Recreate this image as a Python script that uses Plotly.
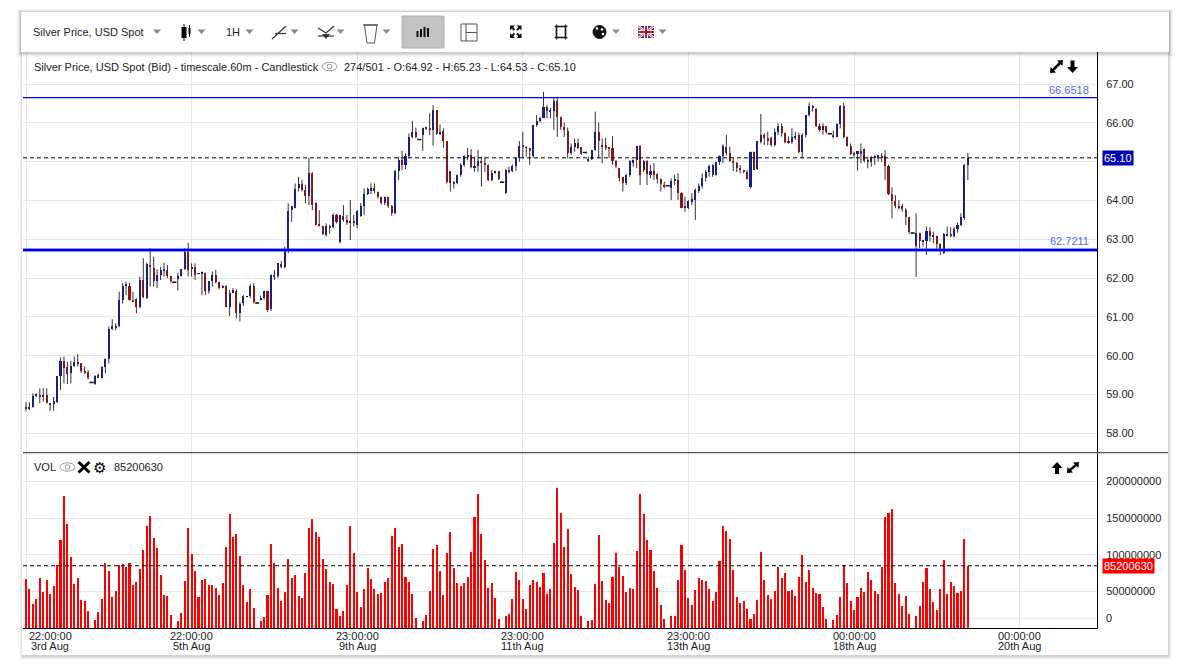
"""
Silver Price, USD Spot -- hourly candlestick with volume panel, rebuilt in Plotly.
"""

import plotly.graph_objects as go

FIG_W, FIG_H = 1198, 669

# -- Data ---------------------------------------------------------------------

OPEN = [
    58.66, 58.64, 58.67, 58.96, 58.99, 58.95, 58.97, 58.77, 58.77, 58.80,
    59.46, 59.86, 59.70, 59.55, 59.73, 59.84, 59.80, 59.61, 59.56, 59.31,
    59.27, 59.49, 59.42, 59.70, 59.92, 60.70, 60.73, 60.75, 61.42, 61.80,
    61.80, 61.44, 61.45, 61.26, 61.95, 61.48, 62.31, 62.25, 61.91, 62.08,
    62.19, 62.21, 62.04, 61.89, 61.99, 62.04, 62.23, 62.66, 62.23, 62.28,
    62.11, 62.12, 62.12, 61.65, 61.91, 62.08, 61.89, 61.80, 61.80, 61.26,
    61.62, 61.67, 61.09, 61.35, 61.51, 61.52, 61.80, 61.36, 61.44, 61.48,
    61.65, 61.20, 62.08, 62.04, 62.36, 62.29, 62.70, 63.76, 63.81, 64.31,
    64.42, 64.27, 64.10, 64.70, 63.93, 63.39, 63.34, 63.11, 63.34, 63.30,
    63.63, 62.91, 63.59, 63.50, 63.41, 63.47, 63.37, 63.60, 63.86, 64.17,
    64.23, 64.31, 64.20, 64.07, 63.93, 64.07, 63.86, 63.67, 64.74, 65.04,
    64.92, 65.13, 65.62, 65.75, 65.57, 65.67, 65.87, 65.84, 65.82, 66.33,
    65.71, 65.79, 65.53, 64.74, 64.48, 64.44, 64.65, 64.90, 65.11, 65.17,
    64.85, 64.87, 65.00, 64.96, 64.92, 64.53, 64.70, 64.74, 64.47, 64.19,
    64.79, 64.76, 64.89, 65.09, 65.43, 65.35, 65.35, 65.13, 65.93, 66.03,
    66.13, 66.40, 66.29, 66.29, 66.55, 66.14, 65.88, 65.79, 65.22, 65.36,
    65.47, 65.36, 65.24, 65.00, 65.07, 65.30, 65.77, 65.43, 65.43, 65.36,
    65.35, 65.02, 64.83, 64.59, 64.44, 64.64, 64.96, 65.04, 65.39, 64.79,
    65.00, 64.66, 64.76, 64.68, 64.55, 64.40, 64.38, 64.31, 64.50, 64.53,
    64.19, 63.84, 63.80, 63.96, 64.01, 64.25, 64.36, 64.57, 64.73, 64.64,
    64.66, 64.98, 65.13, 65.36, 65.22, 65.02, 64.96, 64.83, 64.77, 64.73,
    64.33, 65.23, 64.81, 65.49, 65.69, 65.60, 65.60, 65.43, 65.77, 65.92,
    65.73, 65.52, 65.49, 65.60, 65.69, 65.23, 65.69, 66.20, 66.44, 66.35,
    65.90, 65.80, 65.90, 65.72, 65.66, 65.64, 65.97, 66.44, 65.63, 65.39,
    65.22, 65.21, 65.20, 65.32, 65.04, 64.99, 65.09, 65.13, 65.15, 65.13,
    64.89, 64.17, 63.99, 63.86, 63.84, 63.75, 63.57, 63.16, 62.81, 63.15,
    62.93, 62.94, 63.20, 63.06, 63.07, 62.88, 62.64, 63.10, 63.14, 63.09,
    63.26, 63.37, 63.54, 64.92,
]

HIGH = [
    58.80, 58.80, 59.03, 59.03, 59.16, 59.16, 59.16, 58.78, 58.94, 59.46,
    59.96, 59.98, 59.84, 59.87, 59.98, 60.04, 59.80, 59.72, 59.63, 59.32,
    59.50, 59.54, 59.73, 59.93, 60.75, 60.94, 60.84, 61.65, 61.88, 61.91,
    61.88, 61.65, 61.48, 62.04, 62.51, 62.40, 62.77, 62.55, 62.23, 62.29,
    62.40, 62.34, 62.06, 61.90, 62.14, 62.23, 62.77, 62.91, 62.38, 62.38,
    62.13, 62.17, 62.14, 61.93, 62.17, 62.21, 61.91, 61.82, 61.82, 61.69,
    61.74, 61.71, 61.39, 61.56, 61.53, 61.85, 61.87, 61.37, 61.55, 61.67,
    61.67, 62.10, 62.21, 62.38, 62.44, 62.81, 63.93, 63.86, 64.44, 64.61,
    64.53, 64.40, 65.10, 64.73, 63.95, 63.75, 63.35, 63.41, 63.37, 63.67,
    63.65, 63.63, 63.88, 63.63, 64.01, 63.63, 63.75, 63.93, 64.31, 64.33,
    64.44, 64.44, 64.23, 64.10, 64.10, 64.10, 63.88, 64.79, 65.13, 65.28,
    65.22, 65.73, 66.05, 65.88, 65.58, 65.88, 65.90, 66.25, 66.46, 66.33,
    65.96, 65.86, 65.53, 64.74, 64.50, 64.67, 64.96, 65.17, 65.35, 65.33,
    65.13, 65.30, 65.13, 65.13, 64.93, 64.79, 64.77, 64.76, 64.48, 64.81,
    64.87, 64.93, 65.10, 65.53, 65.77, 65.39, 65.35, 65.93, 66.20, 66.16,
    66.80, 66.46, 66.39, 66.65, 66.68, 66.16, 66.01, 65.88, 65.47, 65.60,
    65.60, 65.36, 65.25, 65.13, 65.30, 66.29, 66.01, 65.60, 65.62, 65.39,
    65.65, 65.04, 64.83, 64.61, 64.68, 65.04, 65.06, 65.39, 65.43, 65.04,
    65.04, 64.92, 64.96, 64.70, 64.57, 64.49, 64.39, 64.57, 64.66, 64.70,
    64.21, 64.10, 64.01, 64.19, 64.31, 64.44, 64.70, 64.79, 64.92, 64.93,
    65.00, 65.16, 65.45, 65.69, 65.39, 65.10, 64.99, 64.92, 64.79, 64.79,
    65.26, 65.26, 65.52, 66.23, 65.73, 65.77, 65.65, 65.86, 65.99, 65.99,
    65.75, 65.65, 65.86, 65.77, 65.75, 65.73, 66.20, 66.52, 66.46, 66.38,
    65.99, 65.99, 65.92, 65.73, 65.80, 65.99, 66.46, 66.52, 65.65, 65.47,
    65.26, 65.26, 65.47, 65.34, 65.13, 65.15, 65.17, 65.17, 65.22, 65.30,
    64.92, 64.34, 64.14, 64.01, 63.91, 63.80, 63.58, 63.17, 63.67, 63.17,
    62.96, 63.33, 63.31, 63.20, 63.09, 62.90, 63.16, 63.33, 63.31, 63.31,
    63.43, 63.67, 64.94, 65.23,
]

LOW = [
    58.57, 58.60, 58.66, 58.94, 58.77, 58.82, 58.77, 58.58, 58.58, 58.78,
    59.12, 59.29, 59.27, 59.29, 59.72, 59.72, 59.55, 59.53, 59.39, 59.30,
    59.25, 59.42, 59.41, 59.55, 59.80, 60.66, 60.66, 60.73, 61.35, 61.56,
    61.42, 61.39, 61.09, 61.22, 61.48, 61.46, 61.78, 61.78, 61.74, 61.95,
    62.04, 62.00, 61.88, 61.88, 61.68, 62.04, 62.21, 62.04, 62.04, 61.95,
    62.10, 61.56, 61.56, 61.60, 61.78, 61.86, 61.71, 61.74, 61.25, 61.02,
    61.61, 60.96, 60.88, 61.28, 61.50, 61.48, 61.35, 61.34, 61.42, 61.44,
    61.13, 61.15, 61.95, 62.01, 62.25, 62.25, 62.64, 63.45, 63.80, 64.23,
    64.23, 63.93, 63.88, 63.75, 63.36, 63.33, 63.11, 63.07, 63.15, 63.28,
    63.41, 62.89, 63.45, 63.37, 62.98, 63.33, 63.28, 63.58, 63.63, 64.14,
    64.16, 64.19, 64.05, 63.90, 63.88, 63.81, 63.61, 63.65, 64.53, 64.79,
    64.81, 65.09, 65.60, 65.60, 65.56, 65.28, 65.82, 65.69, 65.41, 65.69,
    65.69, 65.36, 64.44, 64.23, 64.31, 64.42, 64.61, 64.87, 65.04, 64.83,
    64.74, 64.74, 64.36, 64.73, 64.50, 64.50, 64.69, 64.53, 64.46, 64.17,
    64.70, 64.73, 64.76, 65.00, 65.09, 65.13, 64.92, 65.10, 65.90, 66.01,
    66.12, 66.12, 66.12, 65.82, 65.64, 65.82, 65.64, 65.09, 65.17, 65.26,
    65.33, 65.17, 65.23, 64.99, 65.04, 65.28, 65.09, 64.96, 65.30, 65.10,
    64.92, 64.83, 64.49, 64.23, 64.40, 64.61, 64.87, 64.83, 64.40, 64.74,
    64.40, 64.57, 64.53, 64.44, 64.23, 64.31, 64.37, 64.01, 64.40, 64.01,
    63.80, 63.71, 63.78, 63.89, 63.50, 64.19, 64.31, 64.49, 64.61, 64.61,
    64.64, 64.92, 64.96, 65.16, 65.00, 64.76, 64.73, 64.70, 64.70, 64.53,
    64.31, 64.78, 64.79, 65.47, 65.43, 65.43, 65.39, 65.39, 65.69, 65.65,
    65.47, 65.46, 65.46, 65.56, 65.22, 65.09, 65.62, 66.16, 66.29, 65.89,
    65.77, 65.69, 65.73, 65.71, 65.60, 65.63, 65.86, 65.60, 65.39, 65.17,
    65.09, 64.77, 64.96, 64.98, 64.83, 64.87, 64.91, 65.00, 65.00, 64.53,
    64.14, 63.54, 63.80, 63.77, 63.71, 63.37, 63.15, 63.15, 62.03, 62.77,
    62.81, 62.60, 62.94, 62.90, 62.74, 62.60, 62.62, 63.07, 63.05, 63.05,
    63.17, 63.34, 63.50, 64.53,
]

CLOSE = [
    58.64, 58.66, 58.96, 58.99, 58.95, 58.97, 58.77, 58.74, 58.82, 59.46,
    59.86, 59.67, 59.53, 59.73, 59.84, 59.79, 59.61, 59.55, 59.42, 59.31,
    59.48, 59.44, 59.70, 59.91, 60.69, 60.75, 60.75, 61.42, 61.80, 61.82,
    61.44, 61.39, 61.26, 61.95, 61.50, 62.36, 62.28, 61.91, 62.08, 62.19,
    62.23, 62.04, 61.91, 61.89, 62.04, 62.23, 62.66, 62.21, 62.28, 62.08,
    62.12, 62.14, 61.65, 61.91, 62.08, 61.89, 61.73, 61.76, 61.26, 61.62,
    61.68, 61.09, 61.33, 61.52, 61.52, 61.80, 61.37, 61.36, 61.48, 61.65,
    61.18, 62.08, 62.04, 62.38, 62.29, 62.72, 63.73, 63.84, 64.30, 64.42,
    64.27, 64.10, 64.70, 63.88, 63.37, 63.36, 63.13, 63.34, 63.30, 63.63,
    63.45, 63.61, 63.50, 63.40, 63.47, 63.40, 63.71, 63.86, 64.17, 64.30,
    64.31, 64.23, 64.07, 63.93, 64.07, 63.86, 63.67, 64.74, 65.04, 64.92,
    65.13, 65.62, 65.75, 65.62, 65.57, 65.86, 65.85, 65.82, 66.33, 65.71,
    65.77, 65.52, 64.47, 64.44, 64.44, 64.65, 64.92, 65.13, 65.17, 64.85,
    64.87, 65.00, 64.96, 64.92, 64.53, 64.70, 64.76, 64.55, 64.47, 64.79,
    64.74, 64.89, 65.09, 65.40, 65.36, 65.36, 65.26, 65.93, 66.05, 66.13,
    66.40, 66.29, 66.31, 66.55, 66.14, 65.88, 65.82, 65.22, 65.36, 65.47,
    65.35, 65.19, 65.24, 65.07, 65.30, 65.77, 65.52, 65.39, 65.35, 65.33,
    65.02, 64.87, 64.57, 64.44, 64.66, 65.00, 65.04, 65.39, 64.66, 65.00,
    64.68, 64.76, 64.66, 64.55, 64.42, 64.36, 64.38, 64.49, 64.53, 64.19,
    63.81, 63.80, 63.99, 64.04, 64.27, 64.36, 64.57, 64.73, 64.89, 64.91,
    64.98, 65.13, 65.39, 65.22, 65.02, 64.96, 64.83, 64.79, 64.74, 64.55,
    65.23, 64.79, 65.52, 65.69, 65.60, 65.52, 65.43, 65.77, 65.92, 65.73,
    65.49, 65.49, 65.62, 65.66, 65.23, 65.69, 66.20, 66.44, 66.40, 65.92,
    65.80, 65.90, 65.75, 65.72, 65.63, 65.97, 66.44, 65.63, 65.40, 65.20,
    65.17, 65.26, 65.28, 65.00, 65.00, 65.09, 65.13, 65.16, 65.09, 64.89,
    64.17, 63.99, 63.86, 63.80, 63.77, 63.57, 63.17, 63.16, 63.15, 62.94,
    62.95, 63.20, 63.07, 63.10, 62.88, 62.72, 63.14, 63.14, 63.07, 63.26,
    63.37, 63.57, 64.92, 65.10,
]

# volume per candle, in millions of units
VOLUME_M = [
    67.2, 53.5, 33.1, 39.9, 68.5, 49.5, 65.8, 46.7, 57.6, 86.2,
    120.3, 180.2, 142.1, 97.1, 60.4, 68.5, 38.6, 37.2, 23.6, 0,
    11.3, 22.2, 39.9, 89.0, 78.1, 42.6, 50.8, 86.2, 87.6, 83.5,
    89.0, 59.0, 63.1, 80.8, 106.7, 139.4, 153.0, 123.0, 109.4, 72.6,
    45.4, 44.0, 18.1, 0, 9.9, 20.8, 64.4, 136.6, 101.2, 78.1,
    42.6, 65.8, 67.2, 59.0, 59.0, 54.9, 45.4, 61.7, 110.8, 155.7,
    124.4, 128.5, 98.5, 59.0, 35.8, 53.5, 27.7, 0, 9.9, 15.4,
    45.4, 114.8, 89.0, 54.9, 37.2, 49.5, 94.4, 68.5, 72.6, 44.0,
    41.3, 75.3, 136.6, 148.9, 131.2, 124.4, 94.4, 80.8, 63.1, 60.4,
    26.3, 16.8, 23.6, 59.0, 139.4, 102.6, 49.5, 29.0, 53.5, 82.2,
    67.2, 53.5, 46.7, 48.1, 63.1, 68.5, 125.7, 136.6, 110.8, 114.8,
    69.9, 63.1, 46.7, 14.0, 0, 9.9, 18.1, 50.8, 108.0, 113.5,
    78.1, 45.4, 102.6, 131.2, 82.2, 61.7, 57.6, 61.7, 69.9, 104.0,
    151.6, 183.0, 128.5, 93.1, 55.9, 61.7, 41.3, 12.7, 0, 16.8,
    19.5, 39.9, 76.7, 65.8, 39.9, 26.3, 59.0, 65.8, 63.1, 56.3,
    75.3, 46.7, 53.5, 116.2, 191.1, 157.1, 110.8, 135.3, 74.0, 56.3,
    52.2, 16.8, 0, 9.9, 11.3, 60.4, 127.1, 64.4, 38.6, 34.5,
    69.9, 102.6, 83.5, 71.3, 49.5, 54.9, 53.5, 105.3, 183.0, 156.2,
    120.3, 106.7, 78.1, 54.9, 31.7, 12.7, 0, 16.8, 16.8, 65.8,
    113.5, 79.4, 41.3, 31.7, 52.2, 68.5, 65.8, 64.4, 53.5, 37.2,
    49.5, 91.7, 139.4, 132.6, 121.7, 79.4, 42.6, 34.5, 37.2, 27.2,
    12.7, 19.5, 38.6, 104.0, 65.8, 45.4, 39.9, 50.8, 83.5, 68.5,
    75.3, 50.8, 52.2, 44.0, 69.9, 99.9, 63.1, 79.4, 54.9, 48.1,
    46.7, 29.0, 13.6, 0, 11.3, 18.1, 42.6, 86.2, 61.7, 37.2,
    24.9, 42.6, 54.9, 49.5, 76.7, 65.8, 50.8, 46.7, 83.5, 151.6,
    157.1, 162.5, 61.7, 46.7, 30.4, 44.0, 19.5, 0, 16.8, 30.4,
    63.1, 82.2, 53.5, 35.8, 24.9, 53.5, 93.1, 46.7, 63.1, 57.6,
    48.1, 50.8, 121.7, 85.20063,
]

TICK_IDX = [0, 48, 96, 144, 192, 240, 288]
TICK_TIME = ["22:00:00", "22:00:00", "23:00:00", "23:00:00", "23:00:00", "00:00:00", "00:00:00"]
TICK_DATE = ["3rd Aug", "5th Aug", "9th Aug", "11th Aug", "13th Aug", "18th Aug", "20th Aug"]

PRICE_TICKS = [58, 59, 60, 61, 62, 63, 64, 65, 66, 67, 68]
VOL_TICKS = [50e6, 100e6, 150e6, 200e6]

RESIST = 66.6518
SUPPORT = 62.7211
LAST_PRICE = 65.10
LAST_VOL = 85200630

# -- Theme --------------------------------------------------------------------

FONT = "Liberation Sans, Arial, sans-serif"
TEXT = "#222222"
GRID = "#e6e6e6"
UP = "#0010cc"
DOWN = "#cc0000"
WICK = "#333333"
VOL_RED = "#ff0000"
LINE_BLUE = "#0000ff"
LABEL_BLUE = "#4a6cf0"
ARROW_GREY = "#8a8a8a"

# pixel layout of the frame
PLOT_L, PLOT_R = 23, 1097
PRICE_TOP, SPLIT, VOL_BOT = 45.3, 452.7, 628.3
PRICE_RANGE = [57.5, 68.0]
VOL_RANGE = [0, 239.2e6]
X_RANGE = [-0.87, 310.43]


def px(x):
    return x / FIG_W


def py(y):
    return 1 - y / FIG_H


def rect(x0, y0, x1, y1, fill, line=None, lw=0, layer="above"):
    return dict(type="rect", xref="paper", yref="paper",
                x0=px(x0), x1=px(x1), y0=py(y1), y1=py(y0),
                fillcolor=fill, line=dict(color=line or fill, width=lw), layer=layer)


def seg(x0, y0, x1, y1, color, w=1, dash=None):
    return dict(type="line", xref="paper", yref="paper",
                x0=px(x0), x1=px(x1), y0=py(y0), y1=py(y1),
                line=dict(color=color, width=w, dash=dash), layer="above")


def poly(pts, fill, line=None, lw=0):
    d = "M " + " L ".join(f"{px(x):.5f},{py(y):.5f}" for x, y in pts) + " Z"
    return dict(type="path", xref="paper", yref="paper", path=d,
                fillcolor=fill, line=dict(color=line or fill, width=lw), layer="above")


def ellipse(cx, cy, rx, ry, fill="rgba(0,0,0,0)", line="#999999", lw=1):
    return dict(type="circle", xref="paper", yref="paper",
                x0=px(cx - rx), x1=px(cx + rx), y0=py(cy + ry), y1=py(cy - ry),
                fillcolor=fill, line=dict(color=line, width=lw), layer="above")


def label(x, y, s, size=11, color=TEXT, xanchor="left", **kw):
    return dict(x=px(x), y=py(y), xref="paper", yref="paper", text=s,
                showarrow=False, xanchor=xanchor, yanchor="middle",
                font=dict(family=FONT, size=size, color=color), **kw)


def caret(x, y=31.5):
    return poly([(x - 4, y - 2), (x + 4, y - 2), (x, y + 2.5)], ARROW_GREY)


def down_arrow(cx, top, bot):
    return [rect(cx - 2, top, cx + 2, bot - 5, "black"),
            poly([(cx - 5.5, bot - 6), (cx + 5.5, bot - 6), (cx, bot)], "black")]


def up_arrow(cx, top, bot):
    return [rect(cx - 2, top + 5, cx + 2, bot, "black"),
            poly([(cx - 5.5, top + 6), (cx + 5.5, top + 6), (cx, top)], "black")]


def diag_arrow(x0, y0, x1, y1):
    # double headed arrow from bottom-left (x0, y1) to top-right (x1, y0)
    return [seg(x0 + 3, y1 - 3, x1 - 3, y0 + 3, "black", 2.5),
            poly([(x1, y0), (x1 - 6, y0 + 0.5), (x1 - 0.5, y0 + 6)], "black"),
            poly([(x0, y1), (x0 + 6, y1 - 0.5), (x0 + 0.5, y1 - 6)], "black")]


def eye(cx, cy):
    return [ellipse(cx, cy, 7.5, 4.2), ellipse(cx, cy, 2.3, 2.3)]


# -- Figure -------------------------------------------------------------------

idx = list(range(len(CLOSE)))

wick_x, wick_y = [], []
for i, (h, l) in enumerate(zip(HIGH, LOW)):
    wick_x += [i, i, None]
    wick_y += [l, h, None]

body_base = [min(o, c) for o, c in zip(OPEN, CLOSE)]
body_len = [abs(c - o) for o, c in zip(OPEN, CLOSE)]
body_col = [UP if c > o else DOWN for o, c in zip(OPEN, CLOSE)]
doji_x = [i for i in idx if OPEN[i] == CLOSE[i]]
doji_y = [CLOSE[i] for i in doji_x]

# the scale hides the tick label that sits under the last-price badge
price_text = ["" if abs(t - LAST_PRICE) < 0.5 else f"{t:.2f}" for t in PRICE_TICKS]

fig = go.Figure()

fig.add_trace(go.Bar(
    x=idx, y=[v * 1e6 for v in VOLUME_M], width=0.6,
    marker=dict(color=VOL_RED, line=dict(width=0)),
    xaxis="x", yaxis="y", name="VOL",
))
fig.add_trace(go.Scatter(
    x=wick_x, y=wick_y, mode="lines", line=dict(color=WICK, width=1),
    xaxis="x2", yaxis="y2", name="wick",
))
fig.add_trace(go.Bar(
    x=idx, y=body_len, base=body_base, width=0.6,
    marker=dict(color=body_col, line=dict(width=0)),
    xaxis="x2", yaxis="y2", name="body",
))
fig.add_trace(go.Scatter(
    x=doji_x, y=doji_y, mode="markers",
    marker=dict(symbol="line-ew", size=3, line=dict(color="#111111", width=1.5)),
    xaxis="x2", yaxis="y2", name="doji",
))

axis_font = dict(family=FONT, size=11, color=TEXT)

fig.update_layout(
    width=FIG_W, height=FIG_H,
    margin=dict(l=0, r=0, t=0, b=0, autoexpand=False),
    paper_bgcolor="white", plot_bgcolor="rgba(0,0,0,0)",
    font=dict(family=FONT, color=TEXT),
    showlegend=False, hovermode=False,
    barmode="overlay", bargap=0,
    xaxis=dict(
        domain=[px(PLOT_L), px(PLOT_R)], range=X_RANGE, anchor="y", automargin=False,
        tickvals=TICK_IDX, showticklabels=False, ticks="",
        showgrid=True, gridcolor=GRID, gridwidth=1, zeroline=False,
        showline=True, linecolor="black", linewidth=1,
    ),
    xaxis2=dict(
        domain=[px(PLOT_L), px(PLOT_R)], range=X_RANGE, anchor="y2", matches="x",
        automargin=False, tickvals=TICK_IDX, showticklabels=False, ticks="",
        showgrid=True, gridcolor=GRID, gridwidth=1, zeroline=False, showline=False,
    ),
    yaxis=dict(
        domain=[py(VOL_BOT), py(SPLIT)], range=VOL_RANGE, anchor="x", side="right",
        automargin=False, tickvals=VOL_TICKS, tickformat="d", tickfont=axis_font, ticks="",
        ticklabelstandoff=6,
        showgrid=True, gridcolor=GRID, gridwidth=1, zeroline=False,
        showline=True, linecolor="black", linewidth=1,
    ),
    yaxis2=dict(
        domain=[py(SPLIT), py(PRICE_TOP)], range=PRICE_RANGE, anchor="x2", side="right",
        automargin=False, tickvals=PRICE_TICKS, ticktext=price_text, tickfont=axis_font,
        ticks="", ticklabelstandoff=6,
        showgrid=True, gridcolor=GRID, gridwidth=1, zeroline=False,
        showline=True, linecolor="black", linewidth=1,
    ),
)

# -- Shapes -------------------------------------------------------------------

shapes = []

# chart card with a soft shadow
for k, a in enumerate([0.025, 0.035, 0.05, 0.07]):
    g = 4 - k
    shapes.append(rect(22 - g + 1, 12 - g + 2, 1168 + g, 655 + g + 1,
                       f"rgba(0,0,0,{a})", layer="below"))
shapes.append(rect(22, 12, 1168, 655, "white", layer="below"))

# horizontal levels on the price panel
shapes.append(dict(type="line", xref="x2 domain", yref="y2", x0=0, x1=1,
                   y0=RESIST, y1=RESIST, line=dict(color=LINE_BLUE, width=1.2), layer="above"))
shapes.append(dict(type="line", xref="x2 domain", yref="y2", x0=0, x1=1,
                   y0=SUPPORT, y1=SUPPORT, line=dict(color="rgba(40,60,255,0.55)", width=4), layer="above"))
shapes.append(dict(type="line", xref="x2 domain", yref="y2", x0=0, x1=1,
                   y0=SUPPORT, y1=SUPPORT, line=dict(color="#0000e6", width=2), layer="above"))
shapes.append(dict(type="line", xref="x2 domain", yref="y2", x0=0, x1=1,
                   y0=LAST_PRICE, y1=LAST_PRICE, line=dict(color="black", width=1, dash="4px,3px"),
                   layer="above"))
shapes.append(dict(type="line", xref="x domain", yref="y", x0=0, x1=1,
                   y0=LAST_VOL, y1=LAST_VOL, line=dict(color="black", width=1, dash="4px,3px"),
                   layer="above"))

# panel separator and the offset zero grid line of the volume pane
shapes.append(seg(PLOT_L, SPLIT, 1168, SPLIT, "#555555", 1.2))
shapes.append(dict(type="line", xref="paper", yref="paper", x0=px(PLOT_L), x1=px(PLOT_R),
                   y0=py(618.3), y1=py(618.3), line=dict(color=GRID, width=1), layer="between"))

# panel header icons
shapes += eye(329.5, 66.5)
shapes += diag_arrow(1050, 60, 1063, 73)
shapes += down_arrow(1072.5, 60.5, 73)
shapes += eye(67.5, 467)
shapes.append(seg(78.5, 462, 89.5, 472.5, "black", 3))
shapes.append(seg(89.5, 462, 78.5, 472.5, "black", 3))
shapes += up_arrow(1057, 462, 474)
shapes += diag_arrow(1067, 462, 1079, 473)

# toolbar with its shadow
for k, a in enumerate([0.03, 0.04, 0.06, 0.08]):
    g = 4 - k
    shapes.append(rect(21 - g, 12 - g + 1, 1169 + g, 52 + g + 1, f"rgba(0,0,0,{a})"))
shapes.append(rect(21, 12, 1169, 52, "white"))
shapes.append(rect(402, 16, 444, 48, "#c2c2c2", line="#b0b0b0", lw=1))

# candle icon
shapes.append(seg(184, 24, 184, 41, "black", 1))
shapes.append(rect(181.5, 27, 186.5, 38, "black"))
shapes.append(seg(189.5, 25, 189.5, 37, "black", 1))
shapes.append(rect(188.5, 28, 190.5, 34, "black"))
# line tool icon
shapes.append(seg(272, 39, 286, 26, "#333333", 1.2))
shapes.append(seg(275, 33.5, 286, 33.5, "#333333", 1.2))
# indicator icon
shapes.append(seg(318, 28, 326, 33, "#333333", 1.2))
shapes.append(seg(326, 33, 334, 26, "#333333", 1.2))
shapes.append(seg(318, 36, 334, 36, "#333333", 1.2))
shapes.append(poly([(322, 34), (330, 34), (326, 39)], "#333333"))
# trash icon
shapes.append(seg(363, 25, 378, 25, "#444444", 1.2))
shapes.append(poly([(364.5, 25), (367, 43), (374.5, 43), (377, 25)], "rgba(0,0,0,0)", "#555555", 1))
# active bar-chart button icon
for bx, btop in zip([417.5, 421, 424.5, 428], [31, 29, 27, 28]):
    shapes.append(rect(bx - 1, btop, bx + 1, 37, "#111111"))
# grid icon
shapes.append(rect(461, 24, 477, 41, "rgba(0,0,0,0)", line="#555555", lw=1))
shapes.append(seg(466, 24, 466, 41, "#555555", 1))
shapes.append(seg(466, 32.5, 477, 32.5, "#555555", 1))
# fullscreen icon: four corner arrow heads pointing outwards
for (cx, cy, sx, sy) in [(510, 25.5, 1, 1), (521.5, 25.5, -1, 1), (510, 38, 1, -1), (521.5, 38, -1, -1)]:
    shapes.append(poly([(cx, cy), (cx + 5 * sx, cy), (cx, cy + 5 * sy)], "#111111"))
    shapes.append(seg(cx + 1.5 * sx, cy + 1.5 * sy, cx + 4.5 * sx, cy + 4.5 * sy, "#111111", 2))
# frame icon
shapes.append(rect(556.5, 26.5, 565.5, 37.5, "rgba(0,0,0,0)", line="#111111", lw=1.6))
for (cx, cy, sx, sy) in [(556.5, 26.5, -1, -1), (565.5, 26.5, 1, -1), (556.5, 37.5, -1, 1), (565.5, 37.5, 1, 1)]:
    shapes.append(seg(cx, cy, cx + 2 * sx, cy, "#111111", 1.2))
    shapes.append(seg(cx, cy, cx, cy + 2 * sy, "#111111", 1.2))
# palette icon
shapes.append(ellipse(599.5, 32, 6.5, 6.5, fill="#111111", line="#111111"))
for cx, cy in [(597, 28.5), (602, 29.5), (603, 34)]:
    shapes.append(ellipse(cx, cy, 1.3, 1.3, fill="white", line="white", lw=0))
# union flag icon
shapes.append(rect(638, 26, 654, 38, "#1f3a93"))
shapes.append(seg(638, 26, 654, 38, "white", 2.5))
shapes.append(seg(638, 38, 654, 26, "white", 2.5))
shapes.append(seg(638, 26, 654, 38, "#cc1122", 0.8))
shapes.append(seg(638, 38, 654, 26, "#cc1122", 0.8))
shapes.append(rect(644, 26, 648, 38, "white"))
shapes.append(rect(638, 30, 654, 34, "white"))
shapes.append(rect(645, 26, 647, 38, "#cc1122"))
shapes.append(rect(638, 31, 654, 33, "#cc1122"))
# dropdown carets
for cx in [157, 201.5, 249.5, 294.5, 340.5, 386.5, 616, 662.5]:
    shapes.append(caret(cx))

fig.update_layout(shapes=shapes)

# -- Annotations --------------------------------------------------------------

ann = []
ann.append(label(31, 32.5, "Silver Price, USD Spot"))
ann.append(label(224, 32.5, "1H"))
ann.append(label(32, 66.5, "Silver Price, USD Spot (Bid) - timescale.60m - Candlestick"))
ann.append(label(342, 66.5, "274/501 - O:64.92 - H:65.23 - L:64.53 - C:65.10"))
ann.append(label(32, 467, "VOL"))
ann.append(label(99.5, 467, "⚙", size=15, color="black", xanchor="center"))
ann.append(label(112, 467, f"{LAST_VOL}"))

# level labels
ann.append(dict(x=px(1091), y=RESIST, xref="paper", yref="y2", text=f"{RESIST:.4f}",
                showarrow=False, xanchor="right", yanchor="bottom", yshift=0,
                font=dict(family=FONT, size=11, color=LABEL_BLUE)))
ann.append(dict(x=px(1091), y=SUPPORT, xref="paper", yref="y2", text=f"{SUPPORT:.4f}",
                showarrow=False, xanchor="right", yanchor="bottom", yshift=1,
                font=dict(family=FONT, size=11, color=LABEL_BLUE)))

# last value badges on the right scale
ann.append(dict(x=px(1102), y=LAST_PRICE, xref="paper", yref="y2", text=f"{LAST_PRICE:.2f}",
                showarrow=False, xanchor="left", yanchor="middle", bgcolor="#0000b4",
                borderpad=1, font=dict(family=FONT, size=11, color="white")))
ann.append(dict(x=px(1102), y=LAST_VOL, xref="paper", yref="y", text=f"{LAST_VOL}",
                showarrow=False, xanchor="left", yanchor="middle", bgcolor=VOL_RED,
                borderpad=1, font=dict(family=FONT, size=11, color="white")))
ann.append(label(1104, 617.5, "0"))

# time axis labels (two short lines each, first one kept inside the frame)
for k, (t, tm, dt) in enumerate(zip(TICK_IDX, TICK_TIME, TICK_DATE)):
    anchor = "left" if k == 0 else "center"
    for txt, yy, shift in [(tm, 635.5, 1), (dt, 645.5, 3)]:
        ann.append(dict(x=t, y=py(yy), xref="x", yref="paper", text=txt, showarrow=False,
                        xanchor=anchor, yanchor="middle", xshift=shift if k == 0 else 0,
                        font=dict(family=FONT, size=11, color=TEXT)))

fig.update_layout(annotations=ann)

# pin the plot to the top-left corner of the page so nothing shifts it
pin = (
    "document.documentElement.style.margin='0';"
    "document.body.style.margin='0';"
    "document.body.style.overflow='hidden';"
    "var gd=document.getElementsByClassName('plotly-graph-div')[0];"
    "gd.style.position='absolute';gd.style.left='0px';gd.style.top='0px';"
)
fig.write_html("out.html", config={"displayModeBar": False}, post_script=pin)
